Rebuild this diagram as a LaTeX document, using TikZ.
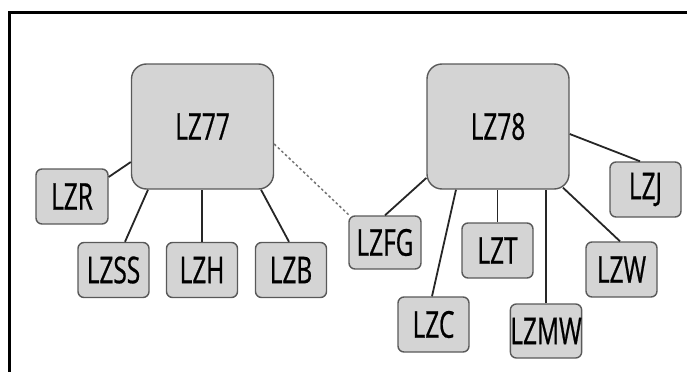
\documentclass[tikz,border=0pt]{standalone}
\usepackage{fontspec}
\setmainfont[FakeStretch=0.66,FakeBold=0.6]{Open Sans}
\begin{document}
\begin{tikzpicture}[x=1pt,y=-1pt,
  box/.style={draw=black!65,fill=black!17,line width=1.4pt,rounded corners=6pt,
    inner sep=0pt,minimum width=71pt,minimum height=55pt,font=\fontsize{37}{38}\selectfont},
  bigbox/.style={box,rounded corners=15pt,minimum width=142pt,minimum height=125pt},
  link/.style={draw=black!85,line width=1.8pt},
  weak/.style={draw=black!55,line width=1.5pt,dash pattern=on 2.5pt off 2.5pt}]
\useasboundingbox (0,0) rectangle (687,372);
\draw[line width=3pt] (687,12) -- (9.5,12) -- (9.5,372);
\node[bigbox] (lz77) at (202.5,126.5) {LZ77};
\node[bigbox] (lz78) at (498,126.5) {LZ78};
\node[box,minimum width=72pt] (lzr) at (72,196.5) {LZR};
\node[box] (lzss) at (113.5,270) {LZSS};
\node[box] (lzh) at (202,270) {LZH};
\node[box] (lzb) at (291,270) {LZB};
\node[box,minimum width=72pt,minimum height=53pt] (lzfg) at (385,242.5) {LZFG};
\node[box] (lzt) at (497.5,250.5) {LZT};
\node[box] (lzw) at (621.5,269.5) {LZW};
\node[box] (lzj) at (645.5,189.5) {LZJ};
\node[box] (lzc) at (433.5,324.5) {LZC};
\node[box,minimum width=70pt,minimum height=54pt] (lzmw) at (546,331) {LZMW};
% LZ77 links
\draw[link] ([yshift=19.5pt]lzr.east) -- ([yshift=-35.5pt]lz77.west);
\draw[link] ([xshift=11.5pt]lzss.north) -- ([xshift=-54.5pt]lz77.south);
\draw[link] (lzh.north) -- (lzh.north |- lz77.south);
\draw[link] ([xshift=-2pt]lzb.north) -- ([xshift=58.5pt]lz77.south);
\draw[weak] ([yshift=-17.5pt]lz77.east) -- ([shift={(2pt,-1pt)}]lzfg.north west);
% LZ78 links
\draw[link] ([yshift=-51.5pt]lz78.west) -- (lzfg.north);
\draw[link] ([xshift=-42pt]lz78.south) -- ([xshift=-1.5pt]lzc.north);
\draw[link] (lzt.north) -- (lzt.north |- lz78.south);
\draw[link] (lzmw.north) -- (lzmw.north |- lz78.south);
\draw[link] ([shift={(65pt,2pt)}]lz78.south) -- ([xshift=-1.5pt]lzw.north);
\draw[link] ([yshift=-7.5pt]lz78.east) -- ([xshift=-5.5pt]lzj.north);
\end{tikzpicture}
\end{document}
